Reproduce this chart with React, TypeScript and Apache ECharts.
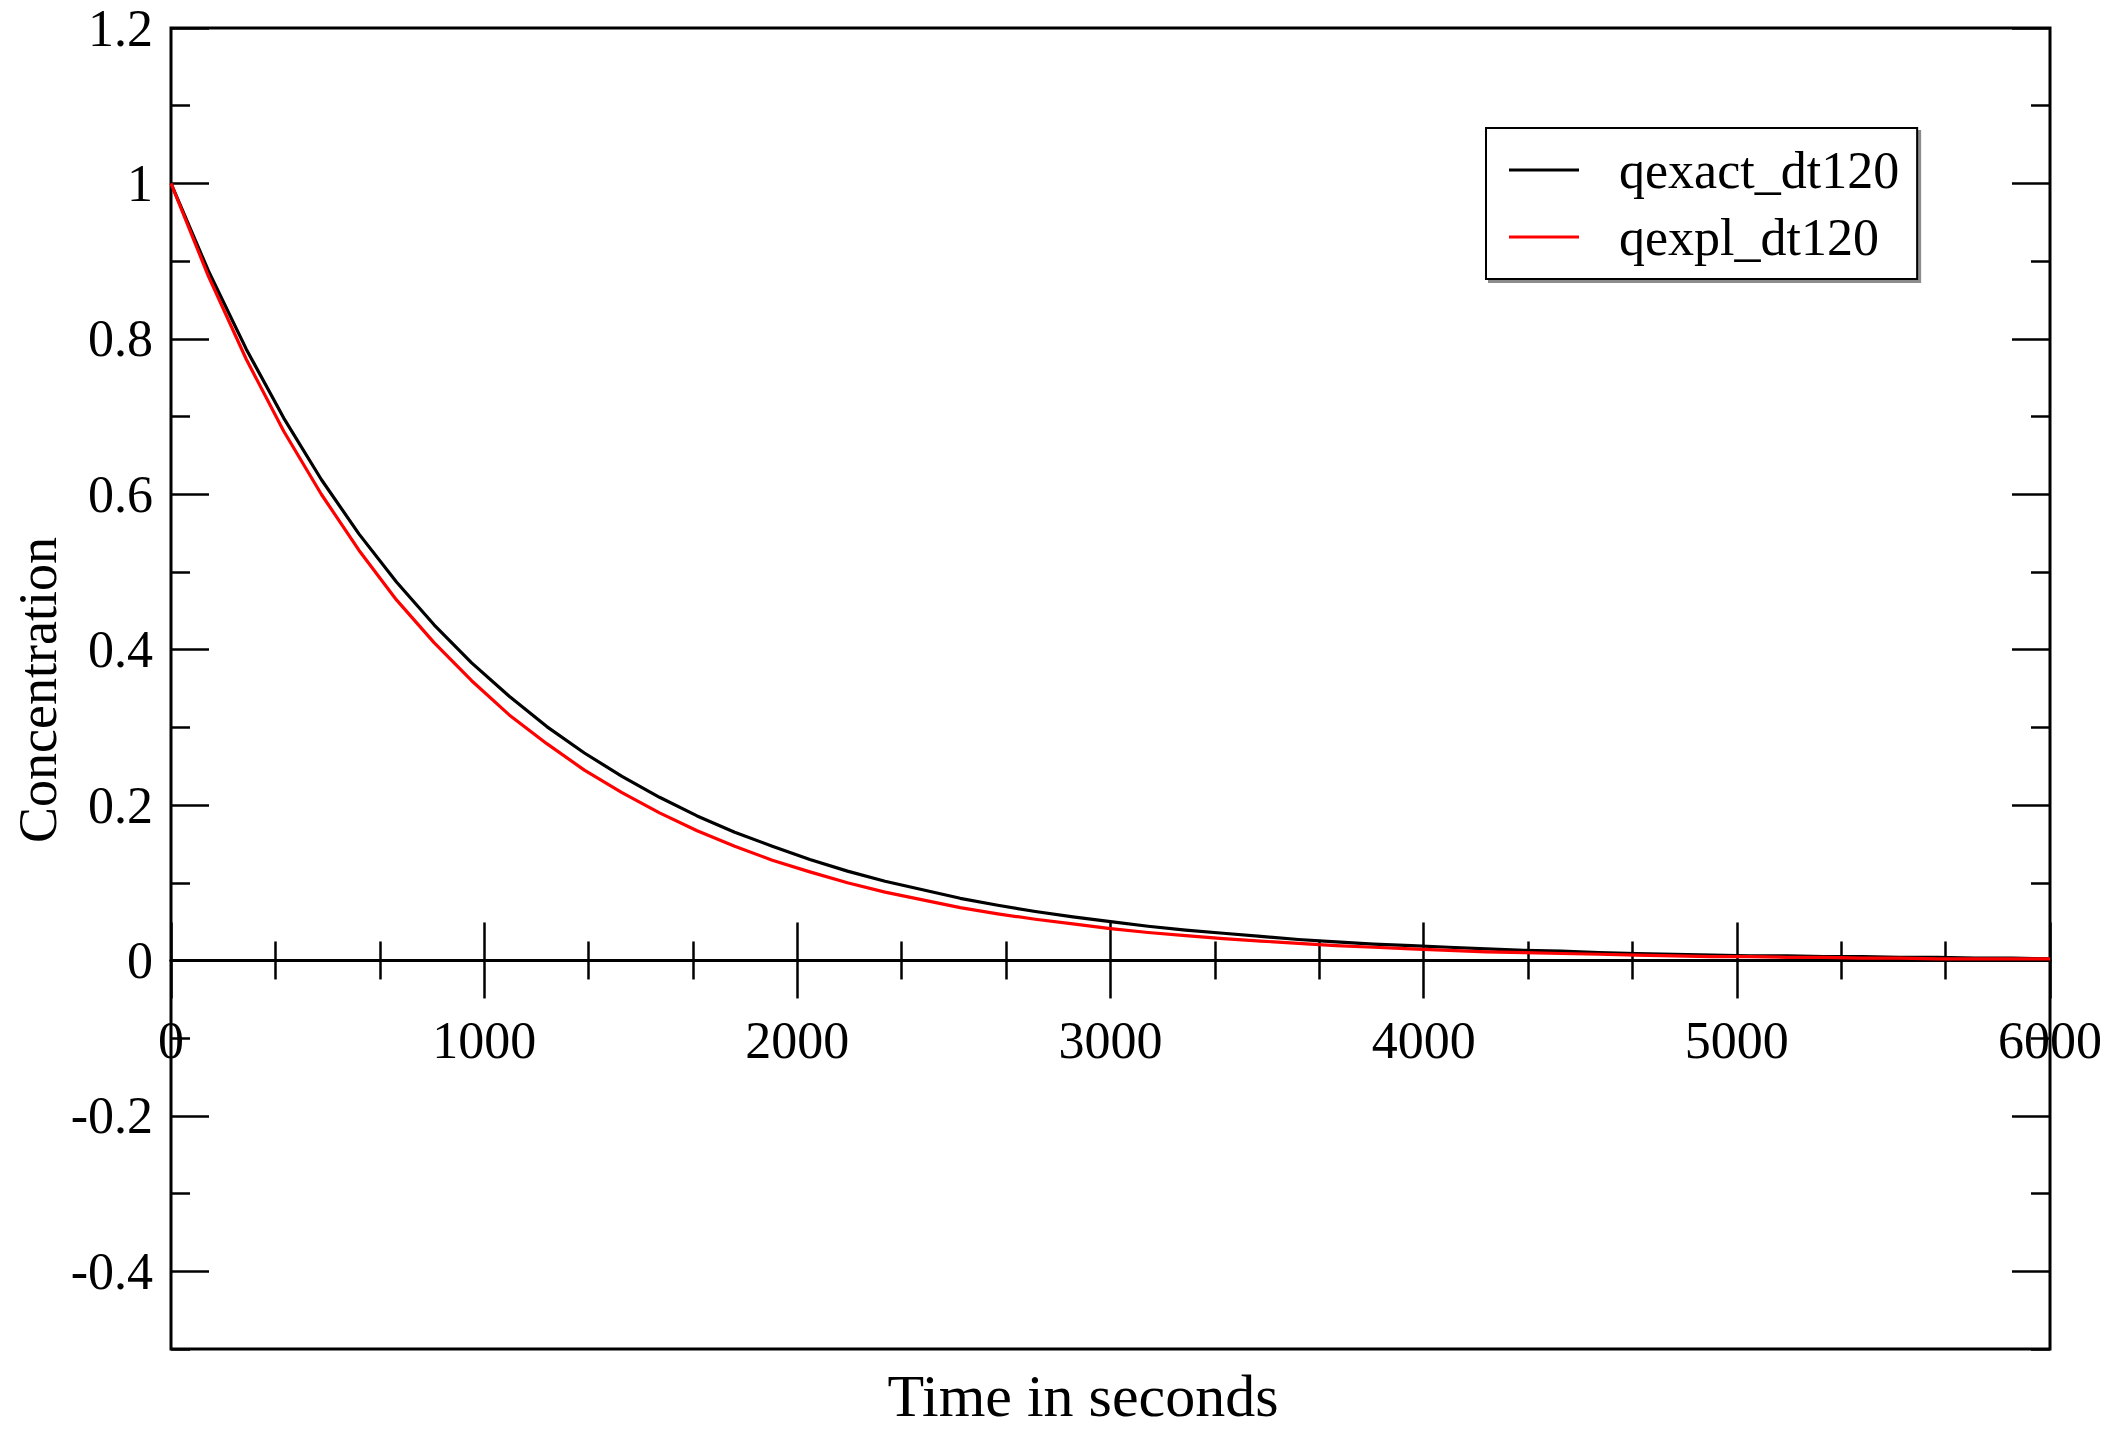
import React, { useEffect, useRef } from "react";
import * as echarts from "echarts";

// Time in seconds (step of 120 s)
const times = [
  0, 120, 240, 360, 480, 600, 720, 840, 960, 1080, 1200, 1320, 1440, 1560, 1680, 1800, 1920,
  2040, 2160, 2280, 2400, 2520, 2640, 2760, 2880, 3000, 3120, 3240, 3360, 3480, 3600, 3720,
  3840, 3960, 4080, 4200, 4320, 4440, 4560, 4680, 4800, 4920, 5040, 5160, 5280, 5400, 5520,
  5640, 5760, 5880, 6000,
];

// Black curve: qexact_dt120
const qexactDt120 = [
  1.0, 0.887, 0.787, 0.698, 0.619, 0.549, 0.487, 0.432, 0.383, 0.34, 0.301, 0.267, 0.237,
  0.21, 0.186, 0.165, 0.147, 0.13, 0.115, 0.102, 0.091, 0.08, 0.071, 0.063, 0.056, 0.05,
  0.044, 0.039, 0.035, 0.031, 0.027, 0.024, 0.021, 0.019, 0.017, 0.015, 0.013, 0.012, 0.01,
  0.009, 0.008, 0.007, 0.006, 0.006, 0.005, 0.005, 0.004, 0.004, 0.003, 0.003, 0.002,
];

// Red curve: qexpl_dt120
const qexplDt120 = [
  1.0, 0.88, 0.774, 0.681, 0.6, 0.528, 0.464, 0.409, 0.36, 0.316, 0.279, 0.245, 0.216, 0.19,
  0.167, 0.147, 0.129, 0.114, 0.1, 0.088, 0.078, 0.068, 0.06, 0.053, 0.047, 0.041, 0.036,
  0.032, 0.028, 0.025, 0.022, 0.019, 0.017, 0.015, 0.013, 0.011, 0.01, 0.009, 0.008, 0.007,
  0.006, 0.005, 0.005, 0.004, 0.004, 0.003, 0.003, 0.002, 0.002, 0.002, 0.002,
];

const yMajorTicks = [-0.4, -0.2, 0, 0.2, 0.4, 0.6, 0.8, 1, 1.2];
const yMinorTicks = [-0.5, -0.3, -0.1, 0.1, 0.3, 0.5, 0.7, 0.9, 1.1];

const seriesNames = ["qexact_dt120", "qexpl_dt120"];
const xTitle = "Time in seconds";
const yTitle = "Concentration";

const FONT = "Liberation Serif";

export default function App() {
  const ref = useRef<HTMLDivElement>(null);

  useEffect(() => {
    if (!ref.current) return;
    const chart = echarts.init(ref.current, null, { renderer: "svg" });

    const tickStyle = { color: "#000", width: 2.5 };
    const yBase = {
      type: "value",
      min: -0.5,
      max: 1.2,
      splitLine: { show: false },
      axisLine: { show: false, onZero: false },
    };
    const xBase = {
      type: "value",
      min: 0,
      max: 6000,
      interval: 1000,
      splitLine: { show: false },
    };
    const xTicked = {
      ...xBase,
      axisLine: { show: true, onZero: true, onZeroAxisIndex: 0, lineStyle: { color: "#000", width: 3 } },
      axisTick: { show: true, length: 38, lineStyle: tickStyle },
      minorTick: { show: true, splitNumber: 3, length: 19, lineStyle: tickStyle },
      axisLabel: { show: false },
    };

    const toPairs = (ys: number[]) => times.map((t, i) => [t, ys[i]]);

    chart.setOption({
      animation: false,
      backgroundColor: "#fff",
      grid: {
        left: 171,
        right: 62,
        top: 28,
        bottom: 81,
        show: true,
        borderColor: "#000",
        borderWidth: 3,
        containLabel: false,
        outerBoundsMode: "none",
      },
      xAxis: [
        { ...xTicked, position: "bottom" },
        { ...xTicked, position: "top" },
        {
          ...xBase,
          position: "bottom",
          offset: -385,
          axisLine: { show: false, onZero: false },
          axisTick: { show: false },
          axisLabel: {
            show: true,
            fontFamily: FONT,
            fontSize: 52,
            color: "#000",
            margin: 50,
            formatter: (v: number) => String(v),
          },
        },
      ],
      yAxis: [
        {
          ...yBase,
          position: "left",
          axisTick: { show: true, inside: true, length: 38, lineStyle: tickStyle, customValues: yMajorTicks },
          axisLabel: {
            show: true,
            customValues: yMajorTicks,
            fontFamily: FONT,
            fontSize: 52,
            color: "#000",
            margin: 18,
            formatter: (v: number) => String(Math.round(v * 10) / 10),
          },
        },
        {
          ...yBase,
          position: "left",
          axisTick: { show: true, inside: true, length: 19, lineStyle: tickStyle, customValues: yMinorTicks },
          axisLabel: { show: false },
        },
        {
          ...yBase,
          position: "right",
          axisTick: { show: true, inside: true, length: 38, lineStyle: tickStyle, customValues: yMajorTicks },
          axisLabel: { show: false },
        },
        {
          ...yBase,
          position: "right",
          axisTick: { show: true, inside: true, length: 19, lineStyle: tickStyle, customValues: yMinorTicks },
          axisLabel: { show: false },
        },
      ],
      legend: {
        orient: "vertical",
        left: 1486,
        top: 128,
        data: seriesNames,
        icon: "rect",
        itemWidth: 70,
        itemHeight: 3,
        itemGap: 15,
        padding: [16, 18, 16, 23],
        borderColor: "#000",
        borderWidth: 2,
        backgroundColor: "#fff",
        shadowColor: "rgba(0,0,0,0.45)",
        shadowOffsetX: 3,
        shadowOffsetY: 3,
        shadowBlur: 0,
        textStyle: { fontFamily: FONT, fontSize: 52, color: "#000", padding: [0, 0, 0, 35] },
      },
      graphic: [
        {
          type: "text",
          x: 1083,
          y: 1396,
          style: {
            text: xTitle,
            fontFamily: FONT,
            fontSize: 60,
            fill: "#000",
            align: "center",
            verticalAlign: "middle",
          },
        },
        {
          type: "text",
          x: 38,
          y: 690,
          rotation: Math.PI / 2,
          style: {
            text: yTitle,
            fontFamily: FONT,
            fontSize: 54,
            fill: "#000",
            align: "center",
            verticalAlign: "middle",
          },
        },
      ],
      series: [
        {
          name: seriesNames[0],
          type: "line",
          xAxisIndex: 0,
          yAxisIndex: 0,
          data: toPairs(qexactDt120),
          symbol: "none",
          showSymbol: false,
          smooth: false,
          lineStyle: { color: "#000", width: 3.2, join: "round" },
          itemStyle: { color: "#000" },
        },
        {
          name: seriesNames[1],
          type: "line",
          xAxisIndex: 0,
          yAxisIndex: 0,
          data: toPairs(qexplDt120),
          symbol: "none",
          showSymbol: false,
          smooth: false,
          lineStyle: { color: "#ff0000", width: 3.2, join: "round" },
          itemStyle: { color: "#ff0000" },
        },
      ],
    });

    return () => chart.dispose();
  }, []);

  return (
    <div
      ref={ref}
      style={{ position: "absolute", left: 0, top: 0, width: 2112, height: 1430, background: "#fff" }}
    />
  );
}
